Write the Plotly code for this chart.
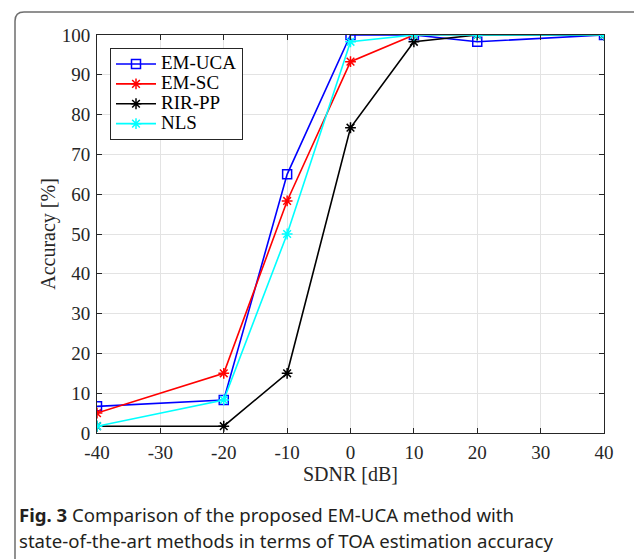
import plotly.graph_objects as go

x_snr = [-40, -20, -10, 0, 10, 20, 40]
em_uca = [6.7, 8.3, 65.0, 100.0, 100.0, 98.3, 100.0]
em_sc = [5.0, 15.0, 58.3, 93.3, 100.0, 100.0, 100.0]
rir_pp = [1.7, 1.7, 15.0, 76.7, 98.3, 100.0, 100.0]
nls = [1.7, 8.3, 50.0, 98.3, 100.0, 100.0, 100.0]
x_ticks = [-40, -30, -20, -10, 0, 10, 20, 30, 40]
x_tick_labels = ["-40", "-30", "-20", "-10", "0", "10", "20", "30", "40"]
y_ticks = [0, 10, 20, 30, 40, 50, 60, 70, 80, 90, 100]

series = [
    ("EM-UCA", em_uca, "#0000ff", "square-open"),
    ("EM-SC", em_sc, "#ff0000", "asterisk-open"),
    ("RIR-PP", rir_pp, "#000000", "asterisk-open"),
    ("NLS", nls, "#00ffff", "asterisk-open"),
]

W, H = 634, 559
L, R, T, B = 97, 604, 35, 433

def px(x):
    return (x - L) / (R - L)

def py(y):
    return (B - y) / (B - T)

serif = "Liberation Serif"

fig = go.Figure()
for name, vals, col, sym in series:
    fig.add_trace(go.Scatter(
        x=x_snr, y=vals, mode="lines+markers",
        name=f'<span style="font-size:19px">{name}</span>',
        line=dict(color=col, width=1.6),
        marker=dict(symbol=sym, size=9, color=col, line=dict(color=col, width=1.5)),
    ))

axis_common = dict(
    showgrid=True, gridcolor="#e3e3e3", gridwidth=1,
    showline=True, linecolor="#262626", linewidth=1, mirror="ticks",
    ticks="inside", ticklen=5, tickcolor="#262626",
    tickfont=dict(family=serif, size=19, color="#262626"),
    zeroline=False,
)
fig.update_layout(
    width=W, height=H,
    margin=dict(l=L, r=W - R, t=T, b=H - B),
    paper_bgcolor="white", plot_bgcolor="white",
    xaxis=dict(range=[-40, 40], tickvals=x_ticks, ticktext=x_tick_labels,
               ticklabelstandoff=2,
               title=dict(text="SDNR [dB]", font=dict(family=serif, size=20, color="#262626"), standoff=4),
               **axis_common),
    yaxis=dict(range=[0, 100], tickvals=y_ticks, ticklabelstandoff=2,
               title=dict(text="Accuracy [%]", font=dict(family=serif, size=20, color="#262626"), standoff=0),
               **axis_common),
    legend=dict(x=px(110), y=py(48), xanchor="left", yanchor="top",
                bgcolor="white", bordercolor="#262626", borderwidth=1,
                font=dict(family=serif, size=13, color="#000000"),
                itemwidth=40, tracegroupgap=0),
    showlegend=True,
)

# page frame with rounded top-left corner
x0, x1 = px(15), px(640)
yt, yb = py(12), py(565)
rx, ry = 9 / (R - L), 9 / (B - T)
fig.add_shape(type="path", xref="paper", yref="paper",
              path=f"M {x0},{yb} L {x0},{yt - ry} Q {x0},{yt} {x0 + rx},{yt} L {x1},{yt}",
              line=dict(color="#6e6e6e", width=1.5))

cap_font = dict(family="Noto Sans", size=18.6, color="#231f20")
fig.add_annotation(xref="paper", yref="paper", x=px(17), y=py(514), xanchor="left", yanchor="middle",
                   text="<b>Fig. 3</b> Comparison of the proposed EM-UCA method with",
                   showarrow=False, font=cap_font)
fig.add_annotation(xref="paper", yref="paper", x=px(17), y=py(540), xanchor="left", yanchor="middle",
                   text="state-of-the-art methods in terms of TOA estimation accuracy",
                   showarrow=False, font=cap_font)

fig.write_html("out.html")
